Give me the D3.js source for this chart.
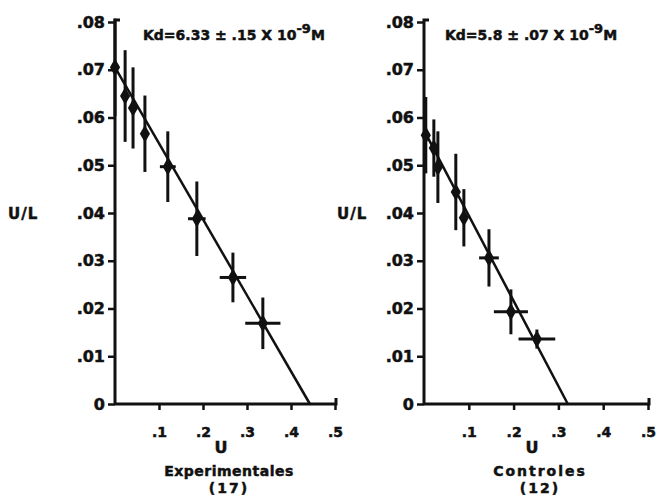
<!DOCTYPE html>
<html>
<head>
<meta charset="utf-8">
<script src="https://cdn.jsdelivr.net/npm/d3@7"></script>
<style>
  html, body { margin: 0; padding: 0; background: #fff; }
  svg text { font-family: "DejaVu Sans", sans-serif; font-weight: bold; fill: #111; stroke: #111; stroke-width: 0.5px; }
</style>
</head>
<body>
<div id="chart"></div>
<script>
const xTicks = [0.1, 0.2, 0.3, 0.4, 0.5];
const xTickLabels = [".1", ".2", ".3", ".4", ".5"];
const yTicks = [0, 0.01, 0.02, 0.03, 0.04, 0.05, 0.06, 0.07, 0.08];
const yTickLabels = ["0", ".01", ".02", ".03", ".04", ".05", ".06", ".07", ".08"];

// Experimentales (17)
const expU = [0, 0.023, 0.041, 0.068, 0.12, 0.186, 0.268, 0.336];
const expUL = [0.0705, 0.0645, 0.062, 0.0566, 0.0497, 0.0388, 0.0265, 0.0169];
const expULErr = [0.0102, 0.0096, 0.0085, 0.008, 0.0074, 0.0078, 0.0052, 0.0054];
const expUErr = [0.005, 0.005, 0.005, 0.008, 0.018, 0.02, 0.03, 0.04];
const expFit = [[0, 0.0705], [0.443, 0]];

// Controles (12)
const ctlU = [0.004, 0.022, 0.031, 0.071, 0.089, 0.145, 0.194, 0.252];
const ctlUL = [0.0563, 0.0536, 0.0496, 0.0444, 0.039, 0.0306, 0.0193, 0.0136];
const ctlULErr = [0.008, 0.006, 0.0075, 0.008, 0.006, 0.006, 0.0047, 0.002];
const ctlUErr = [0.004, 0.004, 0.004, 0.005, 0.005, 0.022, 0.038, 0.041];
const ctlFit = [[0, 0.0573], [0.321, 0]];

const width = 662;
const height = 501;
const ink = "#111";

const svg = d3.select("#chart")
  .append("svg")
  .attr("width", width)
  .attr("height", height);

function drawPanel(opts) {
  const x = d3.scaleLinear().domain([0, 0.5]).range(opts.xRange);
  const y = d3.scaleLinear().domain([0, 0.08]).range([404, 22]);
  const g = svg.append("g");

  // axes
  g.append("g")
    .attr("transform", `translate(${x(0)},0)`)
    .call(d3.axisLeft(y).tickValues(yTicks).tickFormat((d, i) => yTickLabels[i]).tickSize(7).tickPadding(3))
    .call((a) => a.select(".domain").attr("stroke", ink).attr("stroke-width", 3).attr("d", `M0,${y(0)}V${y(0.08) - 2}h5`))
    .call((a) => a.selectAll("line").attr("stroke", ink).attr("stroke-width", 2.5))
    .call((a) => a.selectAll("text").attr("fill", ink).attr("font-size", 16).attr("font-family", "DejaVu Sans").attr("font-weight", "bold"));

  g.append("g")
    .attr("transform", `translate(0,${y(0)})`)
    .call(d3.axisBottom(x).tickValues(xTicks).tickFormat((d, i) => xTickLabels[i]).tickSize(6).tickPadding(17))
    .call((a) => a.select(".domain").attr("stroke", ink).attr("stroke-width", 3).attr("d", `M${x(0)},0H${x(0.5) + 1}v-6`))
    .call((a) => a.selectAll("line").attr("stroke", ink).attr("stroke-width", 2.5))
    .call((a) => a.selectAll("text").attr("fill", ink).attr("font-size", 14).attr("font-family", "DejaVu Sans").attr("font-weight", "bold"));

  // fitted line
  g.append("path")
    .datum(opts.fit)
    .attr("d", d3.line().x((d) => x(d[0])).y((d) => y(d[1])))
    .attr("fill", "none")
    .attr("stroke", ink)
    .attr("stroke-width", 2.5);

  const pts = opts.u.map((u, i) => ({ u, ul: opts.ul[i], ye: opts.ulErr[i], xe: opts.uErr[i] }));

  g.selectAll("line.ybar")
    .data(pts)
    .enter()
    .append("line")
    .attr("x1", (d) => x(d.u))
    .attr("x2", (d) => x(d.u))
    .attr("y1", (d) => y(d.ul + d.ye))
    .attr("y2", (d) => y(d.ul - d.ye))
    .attr("stroke", ink)
    .attr("stroke-width", 3);

  g.selectAll("line.xbar")
    .data(pts)
    .enter()
    .append("line")
    .attr("x1", (d) => x(d.u - d.xe))
    .attr("x2", (d) => x(d.u + d.xe))
    .attr("y1", (d) => y(d.ul))
    .attr("y2", (d) => y(d.ul))
    .attr("stroke", ink)
    .attr("stroke-width", 3);

  g.selectAll("path.pt")
    .data(pts)
    .enter()
    .append("path")
    .attr("transform", (d) => `translate(${x(d.u)},${y(d.ul)})`)
    .attr("d", d3.symbol(d3.symbolDiamond, 90))
    .attr("fill", ink);

  // labels
  g.append("text")
    .attr("x", opts.ulLabelX)
    .attr("y", y(0.04) + 6)
    .attr("font-size", 15)
    .attr("letter-spacing", 1)
    .text("U/L");

  const cx = (x(0.2) + x(0.3)) / 2;

  g.append("text")
    .attr("x", cx - 4)
    .attr("y", 453)
    .attr("text-anchor", "middle")
    .attr("font-size", 16)
    .text("U");

  g.append("text")
    .attr("x", cx + 4)
    .attr("y", 476)
    .attr("text-anchor", "middle")
    .attr("font-size", 14)
    .attr("letter-spacing", opts.groupSpacing)
    .text(opts.group);

  g.append("text")
    .attr("x", cx + 4)
    .attr("y", 493)
    .attr("text-anchor", "middle")
    .attr("font-size", 14)
    .attr("letter-spacing", 2)
    .text(opts.n);

  const kd = g.append("text")
    .attr("x", opts.kdX)
    .attr("y", 40)
    .attr("font-size", 14);
  kd.append("tspan").text(opts.kd);
  kd.append("tspan").attr("dy", -7).attr("font-size", 13).text("-9");
  kd.append("tspan").attr("dy", 7).text("M");
}

drawPanel({
  xRange: [115, 335],
  u: expU, ul: expUL, ulErr: expULErr, uErr: expUErr, fit: expFit,
  ulLabelX: 8, kdX: 143,
  kd: "Kd=6.33 ± .15 X 10",
  group: "Experimentales", groupSpacing: 0.5, n: "(17)"
});

drawPanel({
  xRange: [424, 648],
  u: ctlU, ul: ctlUL, ulErr: ctlULErr, uErr: ctlUErr, fit: ctlFit,
  ulLabelX: 337, kdX: 445,
  kd: "Kd=5.8 ± .07 X 10",
  group: "Controles", groupSpacing: 2, n: "(12)"
});
</script>
</body>
</html>
